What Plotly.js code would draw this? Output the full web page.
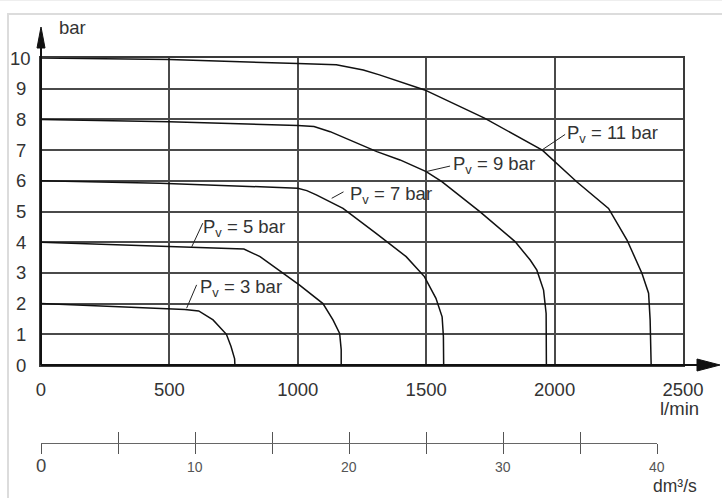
<!DOCTYPE html>
<html><head><meta charset="utf-8">
<script src="https://cdn.plot.ly/plotly-3.0.1.min.js"></script>
<style>
html,body{margin:0;padding:0;background:#fff;}
#wrap{position:relative;width:722px;height:498px;overflow:hidden;}
#chart{position:absolute;left:0;top:0;width:722px;height:498px;}
#topline{position:absolute;left:0;top:0;width:722px;height:1px;background:#eeeeee;}
#frame{position:absolute;left:7px;top:13px;width:740px;height:500px;border-left:2px solid #dcdcdc;border-top:2px solid #dcdcdc;pointer-events:none;}
</style></head>
<body><div id="wrap"><div id="chart"></div><div id="topline"></div><div id="frame"></div></div>
<script>
// ---- data ----
const flowTicks = [0, 500, 1000, 1500, 2000, 2500];          // l/min
const pressureTicks = [0, 1, 2, 3, 4, 5, 6, 7, 8, 9, 10];     // bar
const secTicks = [0, 5, 10, 15, 20, 25, 30, 35, 40];          // dm3/s tick marks
const secLabelVals = [0, 10, 20, 30, 40];                     // dm3/s labelled ticks
const seriesLabels = ['P<sub>v</sub> = 3 bar', 'P<sub>v</sub> = 5 bar', 'P<sub>v</sub> = 7 bar', 'P<sub>v</sub> = 9 bar', 'P<sub>v</sub> = 11 bar'];

const q3 = [0, 560, 614, 670, 722, 740, 754, 755];
const p3 = [2.0, 1.81, 1.76, 1.47, 1.0, 0.6, 0.2, 0];

const q5 = [0, 463, 790, 853, 890, 1007, 1098, 1137, 1163, 1169, 1169];
const p5 = [4.0, 3.88, 3.78, 3.53, 3.31, 2.6, 2.0, 1.47, 1.03, 0.5, 0];

const q7 = [0, 463, 1000, 1035, 1072, 1176, 1305, 1422, 1493, 1538, 1562, 1567, 1568];
const p7 = [6.0, 5.92, 5.76, 5.68, 5.54, 5.1, 4.29, 3.53, 2.88, 2.17, 1.57, 0.92, 0];

const q9 = [0, 500, 1000, 1063, 1126, 1308, 1398, 1500, 1561, 1710, 1846, 1905, 1931, 1957, 1967, 1968];
const p9 = [8.0, 7.92, 7.8, 7.77, 7.6, 6.95, 6.68, 6.3, 5.97, 4.99, 4.02, 3.42, 3.09, 2.44, 1.68, 0];

const q11 = [0, 500, 1000, 1150, 1255, 1318, 1494, 1727, 1952, 2002, 2086, 2210, 2282, 2340, 2366, 2372, 2376];
const p11 = [10.0, 9.95, 9.82, 9.78, 9.61, 9.45, 8.96, 8.04, 7.0, 6.62, 5.97, 5.1, 4.07, 2.99, 2.34, 1.47, 0];

// label anchor (text) and leader line (from curve to text), in data units
const labelQ = [612, 623, 1196, 1598, 2042];
const labelP = [2.5, 4.47, 5.54, 6.5, 7.53];
const leadQ0 = [567, 587, 1132, 1500, 1950];
const leadP0 = [1.85, 3.85, 5.43, 6.3, 7.0];
const leadQ1 = [606, 630, 1178, 1593, 2041];
const leadP1 = [2.61, 4.62, 5.64, 6.48, 7.51];

// ---- build ----
const qs = [q3, q5, q7, q9, q11];
const ps = [p3, p5, p7, p9, p11];
const traces = qs.map((q, i) => ({
  x: q, y: ps[i], type: 'scatter', mode: 'lines', name: seriesLabels[i],
  line: {color: '#111', width: 1.5}, hoverinfo: 'skip', showlegend: false
}));
// helpers (no marks) so the secondary dm3/s scale axes get drawn
['x2', 'x3', 'x4'].forEach(ax => traces.push({x: [0, 40], y: [null, null], xaxis: ax, yaxis: 'y2',
  mode: 'lines', showlegend: false, hoverinfo: 'skip'}));

const FONT = 'Liberation Sans, Arial, sans-serif';
const TXT = '#333';
const FS = 18.5;

const W = 642, H = 385, B = 443, L = 41;
const px = v => (v - L) / W, py = v => (B - v) / H;

const annotations = [];
pressureTicks.forEach(v => annotations.push({
  xref: 'paper', yref: 'y', x: -0.0312, y: v, text: String(v), showarrow: false,
  xanchor: 'center', yanchor: 'middle', font: {family: FONT, size: FS, color: TXT}
}));
seriesLabels.forEach((t, i) => annotations.push({
  xref: 'x', yref: 'y', x: labelQ[i], y: labelP[i], text: t, showarrow: false,
  xanchor: 'left', yanchor: 'middle', font: {family: FONT, size: FS, color: TXT}
}));
annotations.push({xref: 'paper', yref: 'paper', x: 0.0483, y: 1.078, text: 'bar', showarrow: false,
  xanchor: 'center', yanchor: 'middle', font: {family: FONT, size: FS, color: TXT}});
annotations.push({xref: 'paper', yref: 'paper', x: 0.9953, y: py(408), text: 'l/min', showarrow: false,
  xanchor: 'center', yanchor: 'middle', font: {family: FONT, size: FS, color: TXT}});
annotations.push({xref: 'paper', yref: 'paper', x: 0.9875, y: py(497.5), text: 'dm³/s', showarrow: false,
  xanchor: 'center', yanchor: 'bottom', font: {family: FONT, size: 17.5, color: TXT}});
// dm3/s scale labels (the first one is drawn larger, as in the reference)
secLabelVals.forEach((v, i) => annotations.push({xref: 'x2', yref: 'paper', x: v, y: py(i === 0 ? 466 : 467),
  text: String(v), showarrow: false, xanchor: 'center', yanchor: 'middle',
  font: {family: FONT, size: i === 0 ? FS : 14, color: i === 0 ? '#444' : '#555'}}));

const shapes = [];
seriesLabels.forEach((t, i) => shapes.push({
  type: 'line', xref: 'x', yref: 'y', x0: leadQ0[i], y0: leadP0[i], x1: leadQ1[i], y1: leadP1[i],
  line: {color: '#222', width: 1}
}));
// axis arrows (decoration, paper units)
shapes.push({type: 'line', xref: 'paper', yref: 'paper', x0: 0, x1: 0, y0: py(365), y1: py(46), line: {color: '#111', width: 2}});
shapes.push({type: 'path', xref: 'paper', yref: 'paper', fillcolor: '#111', line: {color: '#111', width: 1},
  path: `M ${px(37)} ${py(48)} L ${px(41)} ${py(27)} L ${px(45)} ${py(48)} Z`});
shapes.push({type: 'line', xref: 'paper', yref: 'paper', x0: 0, x1: px(700), y0: py(365), y1: py(365), line: {color: '#111', width: 2}});
shapes.push({type: 'path', xref: 'paper', yref: 'paper', fillcolor: '#111', line: {color: '#111', width: 1},
  path: `M ${px(697)} ${py(359)} L ${px(720)} ${py(365)} L ${px(697)} ${py(371)} Z`});

const secAxis = (extra) => Object.assign({
  range: [0, 40], domain: [0, 0.96], anchor: 'free', position: 0,
  tickmode: 'array', tickvals: secTicks, showticklabels: false,
  tickwidth: 1, tickcolor: '#555',
  showgrid: false, zeroline: false, showline: false, fixedrange: true
}, extra);

const layout = {
  width: 722, height: 498,
  margin: {l: 41, r: 39, t: 58, b: 55},
  paper_bgcolor: 'rgba(0,0,0,0)', plot_bgcolor: 'rgba(0,0,0,0)',
  font: {family: FONT, size: FS, color: TXT},
  showlegend: false,
  xaxis: {
    range: [0, 2500], domain: [0, 1], anchor: 'y',
    tickmode: 'array', tickvals: flowTicks, ticktext: flowTicks.map(String),
    ticks: '', ticklabelstandoff: 7,
    tickfont: {family: FONT, size: FS, color: TXT},
    showgrid: true, gridcolor: '#4a4a4a', gridwidth: 2,
    showline: true, mirror: true, linecolor: '#3a3a3a', linewidth: 2,
    zeroline: false, fixedrange: true
  },
  yaxis: {
    range: [0, 10], domain: [0.2026, 1], anchor: 'x',
    tickmode: 'array', tickvals: pressureTicks, showticklabels: false, ticks: '',
    showgrid: true, gridcolor: '#4a4a4a', gridwidth: 2,
    showline: true, mirror: true, linecolor: '#3a3a3a', linewidth: 2,
    zeroline: false, fixedrange: true
  },
  yaxis2: {range: [0, 1], domain: [0, 0.001], anchor: 'x2', visible: false, fixedrange: true},
  xaxis2: secAxis({ticks: '', showline: true, linecolor: '#666', linewidth: 1}),
  xaxis3: secAxis({ticks: 'inside', ticklen: 11}),
  xaxis4: secAxis({ticks: 'outside', ticklen: 10}),
  annotations: annotations,
  shapes: shapes
};

Plotly.newPlot('chart', traces, layout, {displayModeBar: false});
</script>
</body></html>
